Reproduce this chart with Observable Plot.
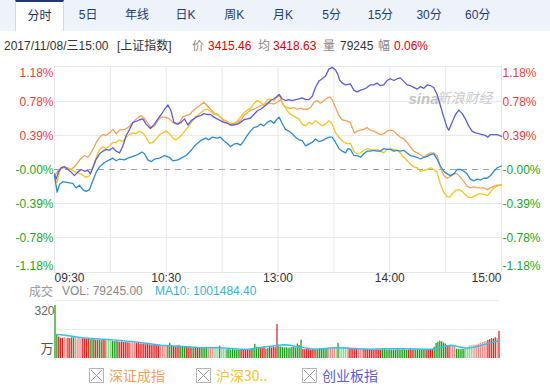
<!DOCTYPE html>
<html><head><meta charset="utf-8">
<script src="https://cdn.jsdelivr.net/npm/d3@7"></script>
<script src="https://cdn.jsdelivr.net/npm/@observablehq/plot@0.6"></script>
<style>
body{margin:0;background:#fff;font-family:"Liberation Sans","Noto Sans CJK SC",sans-serif;}
#wrap{position:relative;width:550px;height:388px;overflow:hidden;background:#fff;}
#tabs{position:absolute;left:0;top:0;width:550px;height:31px;background:#eef2f9;}
.tab{position:absolute;top:0;height:31px;width:49px;text-align:center;line-height:31px;font-size:12px;color:#1d3d7a;box-sizing:border-box;}
.tab.on{background:#fff;border-top:2px solid #1d3a73;border-left:1px solid #d3d9e4;border-right:1px solid #d3d9e4;line-height:29px;color:#1a2f5e;}
.it{position:absolute;top:38px;font-size:12px;white-space:pre;color:#333;line-height:16px;}
.g{color:#888;} .r{color:#e60000;}
.abs{position:absolute;}
.vi{position:absolute;top:284px;font-size:12px;white-space:pre;line-height:14px;}
#legend{position:absolute;left:0;top:366px;width:550px;height:20px;}
.lg{position:absolute;top:0;height:18px;display:flex;align-items:center;font-size:14px;font-family:"Noto Sans CJK SC",sans-serif;}
.lg svg{margin-right:5px;}
</style></head>
<body><div id="wrap">
<div id="tabs"></div>
<div id="info"></div>
<div id="main" class="abs" style="left:0;top:56px"></div>
<div id="volinfo"></div>
<div id="vol" class="abs" style="left:0;top:284px"></div>
<div id="legend"></div>
</div>
<script>
// ---------- data ----------
const tabLabels = ["分时","5日","年线","日K","周K","月K","5分","15分","30分","60分"];
const infoDate = "2017/11/08/三15:00", infoName = "[上证指数]";
const infoPrice = "3415.46", infoAvg = "3418.63", infoVol = "79245", infoChg = "0.06%";
const volText = "VOL: 79245.00", maText = "MA10: 1001484.40";

const pctTicks = [1.18, 0.78, 0.39, 0, -0.39, -0.78, -1.18];
const pctLabels = ["1.18%","0.78%","0.39%","-0.00%","-0.39%","-0.78%","-1.18%"];
const gridMinutes = [0,30,60,90,120,150,180,210,240];
const timeTicks = [0,60,120,180,240];
const timeLabels = ["09:30","10:30","13:00","14:00","15:00"];

// 上证指数 (blue)
const shT = [0,1.4,2.7,4.5,7.2,9.8,11.6,13.4,15.2,17,18.8,20.6,22.4,24.2,26.8,29.5,31.3,33.1,34.9,37.6,39.4,42.1,44.7,46.9,48.3,50.1,51.9,53.7,56.4,59.1,61.7,63.5,66.2,68,70.7,73.4,75.2,78.4,81.1,82.9,84.7,87.3,89.1,90.9,92.7,94.5,96.3,98.1,99.9,101.7,103.5,105.2,107,108.8,110.6,112.4,114.2,116,117.8,119.2,120.6,122.2,124,125.8,127.6,129.4,131.2,133,134.8,136.6,138.4,140.1,141.9,143.7,145.5,147.3,149.1,150.9,152.7,154.5,156.3,157.5,158.9,160.7,162.5,164.3,166.1,167.8,169.6,171.4,173.2,175,176.8,178.6,180.4,182.2,184,185.7,187.5,189.3,191.1,192.9,194.7,196.5,198.3,200.1,201.9,203.6,205.4,207.2,209,210.8,212.6,214.4,216.2,218,219.8,221.5,223.3,225.1,226.9,228.7,230.5,232.3,234.1,235.9,237.7,240];
const shV = [-0.07,-0.26,-0.17,-0.14,-0.15,-0.16,-0.21,-0.18,-0.23,-0.25,-0.23,-0.13,-0.03,0.03,0.08,0.11,0.13,0.10,0.12,0.11,0.13,0.15,0.17,0.20,0.18,0.11,0.09,0.12,0.13,0.16,0.14,0.10,0.11,0.13,0.16,0.22,0.27,0.33,0.36,0.34,0.37,0.36,0.37,0.33,0.30,0.26,0.29,0.30,0.28,0.33,0.39,0.44,0.48,0.49,0.52,0.50,0.54,0.56,0.53,0.57,0.60,0.53,0.46,0.44,0.41,0.37,0.34,0.33,0.27,0.29,0.31,0.35,0.32,0.33,0.35,0.37,0.37,0.31,0.24,0.21,0.19,0.24,0.23,0.16,0.16,0.14,0.18,0.21,0.21,0.22,0.21,0.21,0.24,0.23,0.23,0.21,0.22,0.21,0.22,0.19,0.16,0.15,0.14,0.12,0.14,0.15,0.17,0.18,0.12,0.04,-0.02,-0.05,-0.07,-0.05,0.00,0.00,-0.02,-0.05,-0.11,-0.13,-0.11,-0.12,-0.10,-0.10,-0.07,-0.02,0.02,0.04];

// 深证成指 (orange)
const szT = [0,1.8,3.6,6.3,8.9,10.7,12.5,14.3,16.1,17.9,19.3,20.6,22.4,24.2,26,27.7,29.5,31.3,33.1,34.9,37.6,39.4,41.2,43,44.7,46.5,48,49.8,51.9,53.7,55.5,57.3,59.1,61.7,63.5,65.3,67.1,68.9,70.7,72.5,75.2,77.9,80.2,82,83.8,85.6,87.3,89.1,90.9,92.7,94.5,96.3,98.1,99.9,101.7,103.5,105.2,107,108.8,110.6,112.4,114.2,116,117.8,119.6,121.4,123.1,124.9,126.7,128.5,130.3,132.1,133.9,135.7,137.5,139.3,141,142.8,144.6,146.4,147.8,149.1,150.9,152.7,154.5,156.3,158.9,159.8,161,162.5,164.3,166.1,167.8,169.6,171.4,173.2,175,176.8,178.6,180.4,182.2,184,185.7,187.5,189.3,191.1,192.9,194.7,196.5,198.3,200.1,201.9,203.6,205.4,207.2,209,210.8,212.6,214.4,216.2,218,219.8,221.5,223.3,225.1,226.9,228.7,230.5,232.3,234.1,235.9,237.7,240];
const szV = [-0.07,-0.02,0.02,0.02,0.00,0.03,0.08,0.13,0.16,0.14,0.18,0.23,0.31,0.37,0.40,0.39,0.42,0.46,0.41,0.45,0.46,0.48,0.52,0.56,0.59,0.62,0.59,0.54,0.48,0.50,0.56,0.60,0.60,0.58,0.54,0.52,0.54,0.60,0.62,0.63,0.69,0.73,0.77,0.73,0.69,0.65,0.63,0.60,0.57,0.55,0.53,0.52,0.54,0.56,0.62,0.65,0.68,0.69,0.71,0.73,0.75,0.76,0.76,0.75,0.77,0.80,0.73,0.71,0.70,0.71,0.69,0.70,0.69,0.69,0.71,0.77,0.79,0.76,0.79,0.82,0.83,0.80,0.71,0.62,0.57,0.56,0.54,0.48,0.42,0.44,0.45,0.46,0.48,0.45,0.44,0.42,0.40,0.41,0.44,0.45,0.44,0.40,0.37,0.35,0.31,0.26,0.21,0.19,0.17,0.14,0.17,0.19,0.19,0.16,0.02,-0.07,-0.10,-0.08,-0.05,-0.05,-0.09,-0.14,-0.19,-0.21,-0.20,-0.21,-0.21,-0.21,-0.23,-0.21,-0.19,-0.18,-0.18];

// 沪深300 (yellow)
const hsT = [0,1.4,2.7,4.5,7.2,9.8,11.6,14.3,17,18.8,20.6,22.4,24.2,26,27.7,29.5,31.3,33.1,34.9,36.7,38.5,40.3,42.1,43.8,45.6,47.4,49.2,51,52.8,54.6,56.4,58.2,60,61.7,63.5,65.3,67.1,68.9,70.7,72.5,75.2,77.9,80.2,82,83.8,85.6,87.3,89.1,90.9,92.7,94.5,96.3,98.1,99.9,101.7,103.5,105.2,107,108.8,110.6,112.4,114.2,116,117.8,119.6,121,122.2,124,125.8,127.6,129.4,131.2,133,134.8,136.6,138.4,140.1,141.9,143.7,145.5,147.3,149.1,150.9,152.7,154.5,156.3,158.9,160.7,162.5,164.3,166.1,167.8,169.6,171.4,173.2,175,176.8,178.6,180.4,182.2,184,185.7,187.5,189.3,191.1,192.9,194.7,196.5,198.3,200.1,201.9,203.6,205.4,207.2,209,210.8,212.2,213.5,215.3,217.1,218.9,220.6,222.4,224.2,226,227.8,229.6,231.4,232.6,234.1,235.9,237.7,240];
const hsV = [-0.11,-0.15,-0.02,0.03,0.02,-0.01,-0.03,-0.05,-0.09,-0.07,0.03,0.14,0.23,0.26,0.24,0.27,0.31,0.31,0.34,0.32,0.37,0.40,0.42,0.41,0.44,0.42,0.37,0.30,0.31,0.35,0.40,0.42,0.44,0.41,0.36,0.34,0.37,0.41,0.46,0.51,0.59,0.64,0.68,0.69,0.67,0.63,0.64,0.60,0.55,0.54,0.51,0.53,0.55,0.60,0.65,0.68,0.70,0.75,0.79,0.77,0.73,0.80,0.81,0.79,0.83,0.84,0.77,0.71,0.65,0.62,0.60,0.58,0.52,0.50,0.54,0.52,0.56,0.53,0.50,0.52,0.56,0.52,0.42,0.37,0.33,0.30,0.30,0.21,0.18,0.19,0.22,0.24,0.23,0.22,0.23,0.21,0.19,0.23,0.24,0.23,0.22,0.19,0.14,0.10,0.06,0.03,0.02,-0.02,-0.01,0.00,0.02,0.00,-0.03,-0.17,-0.26,-0.31,-0.32,-0.28,-0.24,-0.23,-0.25,-0.29,-0.32,-0.32,-0.30,-0.28,-0.28,-0.29,-0.30,-0.26,-0.21,-0.19,-0.17];

// 创业板指 (purple)
const cyT = [0,0.9,2.1,3.6,5.4,7.2,8.9,10.7,12.5,14.3,16.1,17.9,19.3,20.6,22.4,24.2,26,27.7,29.5,31.3,33.1,34.9,36.7,38.5,40.3,42.1,43.8,45.6,47.4,49.2,51.5,53.7,55.5,57.3,59.1,60.9,62.6,64.1,66.2,68,69.8,71.6,73.4,76.1,78.7,80.2,82,83.8,85.6,87.3,89.1,90.9,92.7,94.5,96.3,98.1,99.9,101.7,103.5,105.2,107,108.8,110.6,112.4,114.2,116,117.8,119.2,120.6,122.2,124,125.8,127.6,129.4,131.2,133,134.8,136.6,138.4,140.1,141.9,143.7,145.5,147.3,149.1,150.9,152.1,153.2,154.5,156.3,158.9,160.7,162.5,164.3,166.1,167.8,169.6,171.4,173.2,175,176.8,178.6,180.4,182.2,184,185.7,187.5,189.3,191.1,192.9,194.7,196.5,198.3,200.1,201.9,203.6,205.4,207.2,209,210.8,211.7,213.5,215.3,217.1,218.9,220.6,222.4,224.2,226,227.8,229.6,231.4,232.6,234.1,235.9,237.7,240];
const cyV = [-0.05,-0.11,-0.03,0.02,0.03,0.00,-0.03,-0.07,-0.03,0.00,-0.02,-0.01,-0.05,0.02,0.12,0.18,0.21,0.23,0.22,0.25,0.21,0.19,0.27,0.39,0.46,0.54,0.55,0.57,0.58,0.52,0.47,0.52,0.58,0.63,0.69,0.74,0.67,0.54,0.52,0.54,0.58,0.51,0.56,0.60,0.62,0.64,0.63,0.63,0.60,0.58,0.56,0.54,0.53,0.51,0.51,0.52,0.54,0.57,0.58,0.59,0.63,0.67,0.69,0.72,0.75,0.79,0.81,0.83,0.86,0.81,0.79,0.80,0.79,0.80,0.81,0.82,0.80,0.80,0.84,0.94,1.01,1.04,1.07,1.15,1.17,1.14,1.09,1.02,0.99,0.97,0.98,0.91,0.89,0.91,0.92,0.94,0.97,0.97,0.99,0.96,0.97,1.02,1.04,1.02,1.04,1.05,1.01,0.97,0.96,0.94,0.92,0.95,0.93,0.97,0.96,0.94,0.86,0.73,0.60,0.48,0.45,0.54,0.63,0.68,0.64,0.58,0.50,0.44,0.42,0.41,0.40,0.39,0.37,0.40,0.40,0.40,0.38];

// volume per minute (万), minute 0..240
const volume = [292,
132,118,110,112,115,108,112,110,114,120,
112,108,112,106,110,108,105,110,104,106,
104,100,102,100,98,101,99,97,100,96,
95,93,96,92,90,92,88,90,87,86,
86,84,85,82,83,80,78,80,76,77,
75,74,72,75,70,72,69,70,68,70,
68,83,70,67,65,68,72,65,66,63,
62,60,64,58,60,62,58,60,56,60,
58,60,57,62,60,58,61,63,69,60,
54,50,48,52,46,50,45,48,44,46,
45,47,48,47,46,50,56,78,62,55,
58,60,64,52,55,62,58,65,60,187,
65,63,60,58,60,56,58,60,62,58,
80,72,102,50,48,51,49,47,50,48,
51,49,55,54,56,55,53,52,56,58,
60,62,83,62,60,63,58,62,56,55,
52,50,54,53,51,50,52,49,51,50,
48,47,46,48,47,46,48,55,47,46,
48,46,47,45,49,47,46,48,47,45,
46,55,47,48,46,47,49,48,47,50,
48,49,50,52,62,83,90,96,92,85,
80,72,70,73,70,66,52,50,48,50,
50,52,60,70,72,74,73,75,80,85,
88,92,95,100,105,110,108,114,112,150];
// colour runs: [first minute, code]  R red, P pale red, G green, L pale green
const volColorRuns = [[0,"G"],[2,"R"],[5,"P"],[7,"R"],[9,"G"],[11,"P"],[15,"R"],[19,"G"],[21,"R"],[23,"G"],[26,"R"],[28,"L"],[31,"G"],[34,"R"],[41,"P"],[44,"R"],[57,"P"],[61,"G"],[64,"R"],[68,"G"],[71,"R"],[74,"G"],[76,"R"],[79,"G"],[83,"P"],[86,"L"],[89,"G"],[90,"L"],[93,"G"],[100,"R"],[107,"G"],[111,"R"],[114,"G"],[116,"R"],[121,"G"],[134,"R"],[141,"G"],[148,"P"],[152,"L"],[153,"G"],[154,"L"],[159,"R"],[164,"P"],[167,"R"],[177,"G"],[191,"R"],[194,"G"],[201,"R"],[205,"G"],[212,"R"],[214,"P"],[217,"G"],[222,"L"],[227,"P"],[234,"R"],[236,"G"],[237,"R"],[239,"P"],[240,"R"]];
const maT = [0,3,9,14,21,28,35,43,50,57,64,71,78,86,93,100,104,109,114,118,120,124,127,130,134,138,141,145,148,152,155,159,163,170,177,184,191,198,204,207,211,214,218,222,225,229,232,236,240];
const maV = [132,131,123,114,109,105,100,91,83,73,69,65,60,60,56,51,51,58,65,69,73,76,73,65,60,54,51,54,58,60,58,56,54,51,54,54,54,51,51,58,69,73,65,56,60,69,78,87,100];

const seriesNames = ["深证成指","沪深30..","创业板指"];

// ---------- styles ----------
const C = {sh:"#2b8bd6", sz:"#f8a155", hs:"#f6c41f", cy:"#5a5de3"};
const volColors = {R:"#ee1c1c", P:"#f58c8c", G:"#17a017", L:"#90d890"};
const FONT = '"Liberation Sans","Noto Sans CJK SC",sans-serif';

// ---------- header ----------
const tabs = document.getElementById("tabs");
tabLabels.forEach((t,i)=>{
  const d = document.createElement("div");
  d.className = "tab" + (i===0?" on":"");
  d.style.left = (15 + i*48.7) + "px";
  d.textContent = t;
  tabs.appendChild(d);
});
const infoParts = [
  [4, infoDate, ""], [117, infoName, ""],
  [192, "价", "g"], [208, infoPrice, "r"],
  [258, "均", "g"], [273, infoAvg, "r"],
  [323, "量", "g"], [340, infoVol, ""],
  [378, "幅", "g"], [394, infoChg, "r"]
];
const info = document.getElementById("info");
infoParts.forEach(([l,t,c])=>{
  const s = document.createElement("span");
  s.className = "it " + c; s.style.left = l + "px"; s.textContent = t;
  info.appendChild(s);
});

// ---------- main chart ----------
const zip = (T,V) => T.map((t,i)=>({t, v:V[i]})).filter(d=>d.v!==undefined);
const pctData = pctTicks.map((v,i)=>({v, label:pctLabels[i], col: v>0 ? "#f03c3c" : "#1aa81a"}));
const timeData = timeTicks.map((t,i)=>({t, label:timeLabels[i]}));
const lineOpts = (c)=>({x:"t", y:"v", stroke:c, strokeWidth:1.3});
const yLab = (data, side, dy) => Plot.text(data, {y:"v", text:"label", fill:"col", frameAnchor:side, textAnchor: side==="left"?"end":"start", dx: side==="left"?-1:1, dy, fontSize:12});

const main = Plot.plot({
  width:550, height:234, marginLeft:54, marginRight:49, marginTop:10, marginBottom:18,
  x:{domain:[0,240], axis:null}, y:{domain:[-1.18,1.18], axis:null},
  color:{type:"identity"},
  style:{fontFamily:FONT, fontSize:"12px", background:"transparent", overflow:"visible"},
  marks:[
    Plot.ruleY(pctTicks.filter(v=>v!==0), {stroke:"#e8e8e8"}),
    Plot.ruleX(gridMinutes, {stroke:"#e8e8e8"}),
    Plot.ruleY([0], {stroke:"#a3a3a3", strokeDasharray:"6,5"}),
    Plot.text(["新浪财经"], {frameAnchor:"top-right", textAnchor:"end", dx:-9, dy:27, fill:"#cacaca", fontSize:14, fontStyle:"italic"}),
    Plot.text(["sina"], {frameAnchor:"top-right", textAnchor:"end", dx:-63, dy:27, fill:"#c4c4c4", fontSize:15, fontStyle:"italic", fontWeight:"bold"}),
    Plot.line(zip(szT,szV), lineOpts(C.sz)),
    Plot.line(zip(hsT,hsV), lineOpts(C.hs)),
    Plot.line(zip(cyT,cyV), lineOpts(C.cy)),
    Plot.line(zip(shT,shV), lineOpts(C.sh)),
    yLab(pctData.slice(0,1), "left", 7), yLab(pctData.slice(1,6), "left", 1), yLab(pctData.slice(6), "left", -6),
    yLab(pctData.slice(0,1), "right", 7), yLab(pctData.slice(1,6), "right", 1), yLab(pctData.slice(6), "right", -6),
    Plot.text(timeData.slice(0,1), {x:"t", text:"label", frameAnchor:"bottom", textAnchor:"start", dy:9, fill:"#333", fontSize:12}),
    Plot.text(timeData.slice(1,-1), {x:"t", text:"label", frameAnchor:"bottom", textAnchor:"middle", dy:9, fill:"#333", fontSize:12}),
    Plot.text(timeData.slice(-1), {x:"t", text:"label", frameAnchor:"bottom", textAnchor:"end", dy:9, fill:"#333", fontSize:12})
  ]
});
document.getElementById("main").appendChild(main);

// ---------- volume ----------
const vinfo = document.getElementById("volinfo");
[[29, "成交", "#999", "'Noto Sans CJK SC',sans-serif"], [62, volText, "#888", ""], [155, maText, "#2db5e6", ""]].forEach(([l,t,c,f])=>{
  const s = document.createElement("span");
  s.className = "vi"; s.style.left = l + "px"; s.style.color = c; if (f) s.style.fontFamily = f;
  s.textContent = t; vinfo.appendChild(s);
});
const codeAt = (m)=>{ let c="R"; for (const [s,k] of volColorRuns) if (m>=s) c=k; return c; };
const volData = volume.map((v,i)=>({t:i, v, c: volColors[codeAt(i)]}));
const vol = Plot.plot({
  width:550, height:78, marginLeft:55, marginRight:51, marginTop:16, marginBottom:4,
  x:{domain:[0,240], axis:null}, y:{domain:[0,320], axis:null},
  color:{type:"identity"},
  style:{fontFamily:FONT, fontSize:"12px", background:"transparent", overflow:"visible"},
  marks:[
    Plot.ruleY([160,320], {stroke:"#ececec"}),
    Plot.rectY(volData, {x1:d=>d.t-0.34, x2:d=>d.t+0.34, y:"v", fill:"c"}),
    Plot.line(zip(maT,maV), {x:"t", y:"v", stroke:"#36bfe9", strokeWidth:1.5}),
    Plot.text(["320"], {frameAnchor:"top-left", textAnchor:"end", dx:-1, dy:6, fill:"#666", fontSize:12}),
    Plot.text(["万"], {frameAnchor:"bottom-left", textAnchor:"end", dx:-2, dy:-6, fill:"#555", fontSize:13, fontFamily:"Noto Sans CJK SC"})
  ]
});
document.getElementById("vol").appendChild(vol);

// ---------- legend ----------
const lg = document.getElementById("legend");
const lgCols = [C.sz, C.hs, C.cy];
const lgLeft = [89, 196, 302];
seriesNames.forEach((n,i)=>{
  const d = document.createElement("div");
  d.className = "lg";
  d.style.left = lgLeft[i] + "px";
  d.innerHTML = `<svg width="15" height="15"><rect x="0.5" y="0.5" width="14" height="14" fill="#fff" stroke="#b5b5b5"/><line x1="2" y1="2" x2="13" y2="13" stroke="#999"/><line x1="13" y1="2" x2="2" y2="13" stroke="#999"/></svg><span style="color:${lgCols[i]}">${n}</span>`;
  lg.appendChild(d);
});
</script>
</body></html>
